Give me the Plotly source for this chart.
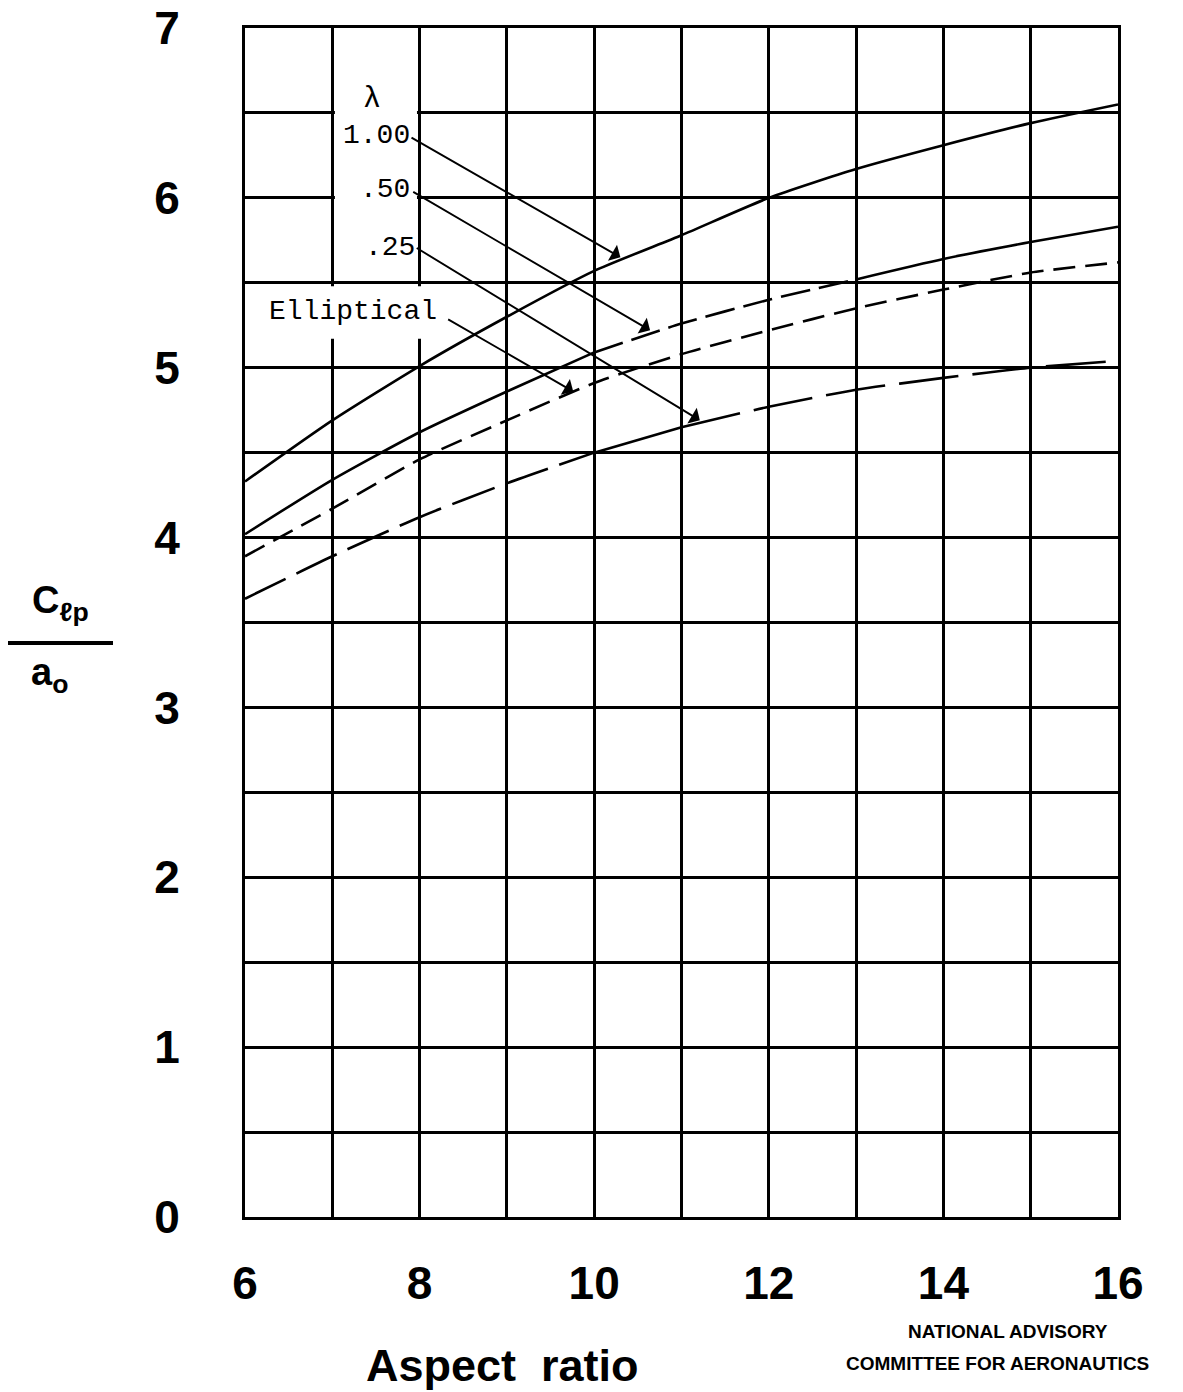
import plotly.graph_objects as go

# ---------------- data ----------------
aspect_ratio = [6, 7, 8, 9, 10, 11, 12, 13, 14, 15, 16]
lam_100 = [4.33, 4.69, 5.01, 5.30, 5.57, 5.78, 6.00, 6.17, 6.31, 6.44, 6.55]
lam_050 = [4.02, 4.34, 4.62, 4.86, 5.09, 5.26, 5.40, 5.52, 5.64, 5.74, 5.83]
elliptical = [3.89, 4.17, 4.46, 4.69, 4.91, 5.08, 5.22, 5.35, 5.46, 5.56, 5.62]
lam_025 = [3.64, 3.89, 4.12, 4.32, 4.50, 4.65, 4.77, 4.87, 4.94, 5.00, 5.04]

x_tickvals = list(range(6, 17))
x_ticktext = ["6", "", "8", "", "10", "", "12", "", "14", "", "16"]
y_tickvals = [i * 0.5 for i in range(15)]
y_ticktext = [str(int(v)) if v == int(v) else "" for v in y_tickvals]

# label texts and anchor positions (data coords)
label_texts = ["λ", "1.00", ".50", ".25", "Elliptical"]
label_x = [7.45, 7.51, 7.60, 7.66, 7.24]
label_y = [6.58, 6.37, 6.05, 5.71, 5.33]
# arrows: tail -> head
arrow_tail_x = [7.89, 7.91, 7.95, 8.31]
arrow_tail_y = [6.36, 6.04, 5.71, 5.29]
arrow_head_x = [10.30, 10.64, 11.21, 9.76]
arrow_head_y = [5.65, 5.22, 4.69, 4.86]

LW = 2.6
fig = go.Figure()

def seg(y, i0, i1, dash):
    fig.add_trace(go.Scatter(
        x=aspect_ratio[i0:i1], y=y[i0:i1], mode="lines",
        line=dict(color="black", width=LW, dash=dash, shape="spline", smoothing=0.6),
        showlegend=False, hoverinfo="skip"))

# lambda = 1.00 : solid
seg(lam_100, 0, 11, "solid")
# lambda = 0.50 : solid, dashed middle part, solid
seg(lam_050, 0, 5, "solid")
seg(lam_050, 4, 8, "30px,9px")
seg(lam_050, 7, 11, "solid")
# elliptical : medium dashes
seg(elliptical, 0, 11, "22px,10px")
# lambda = 0.25 : long dashes with short solid part
seg(lam_025, 0, 5, "45px,12px")
seg(lam_025, 4, 6, "solid")
seg(lam_025, 5, 11, "60px,14px")

tick_font = dict(family="Liberation Sans, Arial, sans-serif", size=46, color="black", weight="bold")

fig.update_layout(
    width=1183, height=1392,
    margin=dict(l=237, r=73, t=20, b=183, autoexpand=False),
    paper_bgcolor="white", plot_bgcolor="white",
    xaxis=dict(range=[6, 16], tickmode="array", tickvals=x_tickvals, ticktext=x_ticktext,
               showgrid=True, gridcolor="black", gridwidth=2.8,
               showline=True, linecolor="black", linewidth=3, mirror=True,
               ticks="", tickfont=tick_font, ticklabelstandoff=24, zeroline=False,
               ticklabeloverflow="allow", automargin=False),
    yaxis=dict(range=[0, 7], tickmode="array", tickvals=y_tickvals, ticktext=y_ticktext,
               showgrid=True, gridcolor="black", gridwidth=2.8,
               showline=True, linecolor="black", linewidth=3, mirror=True,
               ticks="", tickfont=tick_font, ticklabelstandoff=53, zeroline=False,
               ticklabeloverflow="allow", automargin=False),
)

# white label boxes (above grid, below traces)
fig.add_shape(type="rect", xref="x", yref="y", x0=7.03, x1=7.97, y0=5.52, y1=6.985,
              fillcolor="white", line=dict(width=0), layer="between")
fig.add_shape(type="rect", xref="x", yref="y", x0=6.02, x1=8.1, y0=5.17, y1=5.48,
              fillcolor="white", line=dict(width=0), layer="between")

mono = dict(family="Liberation Mono, Courier New, monospace", size=28, color="black")
for t, x, y in zip(label_texts, label_x, label_y):
    fig.add_annotation(x=x, y=y, xref="x", yref="y", text=t, showarrow=False,
                       xanchor="center", yanchor="middle",
                       font=mono if t != "λ" else dict(mono, size=30))

for tx, ty, hx, hy in zip(arrow_tail_x, arrow_tail_y, arrow_head_x, arrow_head_y):
    fig.add_annotation(x=hx, y=hy, ax=tx, ay=ty, xref="x", yref="y", axref="x", ayref="y",
                       text="", showarrow=True, arrowhead=1, arrowsize=1.6, arrowwidth=1.9,
                       arrowcolor="black", standoff=0, startstandoff=0)

# y-axis title as a fraction
title_font = dict(family="Liberation Sans, Arial, sans-serif", size=38, color="black", weight="bold")
fig.add_annotation(x=-0.2119, y=0.5164, xref="paper", yref="paper", xanchor="center", yanchor="middle",
                   text="C<sub>ℓp</sub>", showarrow=False, font=title_font)
fig.add_annotation(x=-0.2245, y=0.4558, xref="paper", yref="paper", xanchor="center", yanchor="middle",
                   text="a<sub>o</sub>", showarrow=False, font=title_font)
fig.add_shape(type="line", xref="paper", yref="paper", x0=-0.2715, x1=-0.1512,
              y0=0.4828, y1=0.4828, line=dict(color="black", width=4))

# x-axis title
fig.add_annotation(x=0.2944, y=-0.1250, xref="paper", yref="paper", xanchor="center", yanchor="middle",
                   text="Aspect  ratio", showarrow=False, font=dict(title_font, size=45))

naca = dict(family="Liberation Sans, Arial, sans-serif", size=19, color="black", weight="bold")
fig.add_annotation(x=0.874, y=-0.0967, xref="paper", yref="paper", xanchor="center", yanchor="middle",
                   text="NATIONAL ADVISORY", showarrow=False, font=naca)
fig.add_annotation(x=0.8625, y=-0.1228, xref="paper", yref="paper", xanchor="center", yanchor="middle",
                   text="COMMITTEE FOR AERONAUTICS", showarrow=False, font=naca)

fig.write_html("out.html")
